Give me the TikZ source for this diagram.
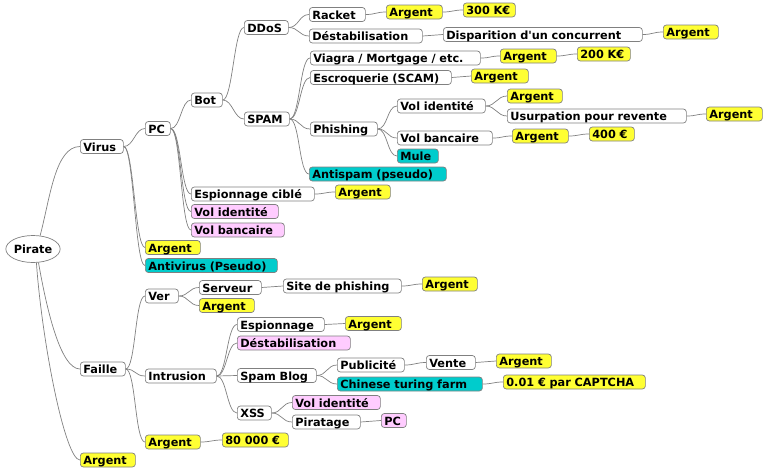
\documentclass[tikz,border=0pt]{standalone}
\usepackage{fontspec}
\setmainfont{DejaVu Sans}
\usetikzlibrary{shapes.geometric}
\definecolor{jaune}{HTML}{FFFF33}
\definecolor{turq}{HTML}{00CCCC}
\definecolor{rose}{HTML}{FFCCFF}
\begin{document}
\begin{tikzpicture}[x=1pt,y=-1pt,
  box/.style={draw=gray, fill=white, rounded corners=3pt, line width=0.7pt, anchor=west,
    inner xsep=3pt, inner ysep=1.5pt, text height=10pt, text depth=1pt, align=left,
    font=\fontsize{11.3}{13}\selectfont\bfseries},
  jbox/.style={box, fill=jaune},
  tbox/.style={box, fill=turq},
  rbox/.style={box, fill=rose},
  link/.style={draw=gray, line width=0.7pt, out=0, in=180, out distance=10pt, in distance=10pt}]
\useasboundingbox (0,0) rectangle (764,467);
\node[ellipse, draw=gray, fill=white, line width=0.7pt, minimum width=53pt, minimum height=27pt, inner sep=0pt,
  font=\fontsize{11.3}{13}\selectfont\bfseries] (pirate) at (33,249) {Pirate};
% virus
\node[box, text width=37pt] (virus) at (80,146.5) {Virus};
\node[box, text width=19pt] (pc) at (145,128.5) {PC};
\node[box, text width=25pt] (bot) at (191,100) {Bot};
\node[box, text width=38pt] (ddos) at (244,27.5) {DDoS};
\node[box, text width=50pt] (racket) at (309,14.5) {Racket};
\node[jbox, text width=50pt] (argRacket) at (386,12) {Argent};
\node[jbox, text width=46pt] (k300) at (463,10) {300 K€};
\node[box, text width=107pt] (destab) at (309,36) {Déstabilisation};
\node[box, text width=193pt] (dispar) at (443,34.5) {Disparition d\textquotesingle un concurrent};
\node[jbox, text width=49pt] (argDispar) at (663,32) {Argent};
\node[box, text width=39pt] (spam) at (244,119) {SPAM};
\node[box, text width=164pt] (viagra) at (310,58) {Viagra / Mortgage / etc.};
\node[jbox, text width=50pt] (argViagra) at (500,56) {Argent};
\node[jbox, text width=47pt] (k200) at (577,54) {200 K€};
\node[box, text width=135pt] (scam) at (310,77.5) {Escroquerie (SCAM)};
\node[jbox, text width=51pt] (argScam) at (471,76) {Argent};
\node[box, text width=61pt] (phish) at (310,129) {Phishing};
\node[box, text width=82pt] (volid) at (397,106) {Vol identité};
\node[jbox, text width=49pt] (argVolid) at (507,96) {Argent};
\node[box, text width=173pt] (usurp) at (507,116) {Usurpation pour revente};
\node[jbox, text width=50pt] (argUsurp) at (706,114) {Argent};
\node[box, text width=89pt] (volbq) at (397,138) {Vol bancaire};
\node[jbox, text width=50pt] (argVolbq) at (512,136) {Argent};
\node[jbox, text width=39pt] (e400) at (589,134) {400 €};
\node[tbox, text width=35pt] (mule) at (397,156) {Mule};
\node[tbox, text width=131pt] (antispam) at (309,174) {Antispam (pseudo)};
\node[box, text width=117pt] (espcib) at (191,194) {Espionnage ciblé};
\node[jbox, text width=49pt] (argEspcib) at (335,192) {Argent};
\node[rbox, text width=81pt] (pcVolid) at (191,211.5) {Vol identité};
\node[rbox, text width=87pt] (pcVolbq) at (191,230) {Vol bancaire};
\node[jbox, text width=49pt] (argVirus) at (145,247.5) {Argent};
\node[tbox, text width=126pt] (antivir) at (145,265.5) {Antivirus (Pseudo)};
% faille
\node[box, text width=39pt] (faille) at (80,369) {Faille};
\node[box, text width=27pt] (ver) at (145,296) {Ver};
\node[box, text width=56pt] (serveur) at (199,287.5) {Serveur};
\node[box, text width=112pt] (site) at (283,286) {Site de phishing};
\node[jbox, text width=49pt] (argSite) at (422,284) {Argent};
\node[jbox, text width=49pt] (argVer) at (199,305.5) {Argent};
\node[box, text width=65pt] (intru) at (145,376) {Intrusion};
\node[box, text width=81pt] (espion) at (237,324.5) {Espionnage};
\node[jbox, text width=50pt] (argEspion) at (345,323.5) {Argent};
\node[rbox, text width=107pt] (destabI) at (237,343) {Déstabilisation};
\node[box, text width=73pt] (blog) at (237,375.5) {Spam Blog};
\node[box, text width=61pt] (pub) at (337,365) {Publicité};
\node[box, text width=43pt] (vente) at (426,362.5) {Vente};
\node[jbox, text width=49pt] (argVente) at (496,361) {Argent};
\node[tbox, text width=139pt] (turing) at (337,384) {Chinese turing farm};
\node[jbox, text width=136pt] (captcha) at (503,382) {0.01 € par CAPTCHA};
\node[box, text width=28pt] (xss) at (237,413) {XSS};
\node[rbox, text width=82pt] (xssVolid) at (292,402.5) {Vol identité};
\node[box, text width=62pt] (pirat) at (292,422) {Piratage};
\node[rbox, text width=19pt] (pcPirat) at (381,420.5) {PC};
\node[jbox, text width=49pt] (argFaille) at (145,442) {Argent};
\node[jbox, text width=60pt] (e80k) at (222,440) {80 000 €};
\node[jbox, text width=49pt] (argPirate) at (80,460) {Argent};
% liens
\draw[draw=gray, line width=0.7pt] (pirate.62) to[out=75, in=180, in distance=25pt] (virus.west);
\draw[draw=gray, line width=0.7pt] (pirate.-68) to[out=-80, in=180, in distance=20pt] (faille.west);
\draw[draw=gray, line width=0.7pt] (pirate.-76) to[out=-86, in=180, in distance=15pt] (argPirate.west);
\draw[link] (virus.east) to (pc.west);
\draw[link] (virus.east) to (argVirus.west);
\draw[link] (virus.east) to (antivir.west);
\draw[link] (pc.east) to (bot.west);
\draw[link] (pc.east) to (espcib.west);
\draw[link] (pc.east) to (pcVolid.west);
\draw[link] (pc.east) to (pcVolbq.west);
\draw[link] (bot.east) to (ddos.west);
\draw[link] (bot.east) to (spam.west);
\draw[link] (ddos.east) to (racket.west);
\draw[link] (ddos.east) to (destab.west);
\draw[link] (racket.east) to (argRacket.west);
\draw[link] (argRacket.east) to (k300.west);
\draw[link] (destab.east) to (dispar.west);
\draw[link] (dispar.east) to (argDispar.west);
\draw[link] (spam.east) to (viagra.west);
\draw[link] (spam.east) to (scam.west);
\draw[link] (spam.east) to (phish.west);
\draw[link] (spam.east) to (antispam.west);
\draw[link] (viagra.east) to (argViagra.west);
\draw[link] (argViagra.east) to (k200.west);
\draw[link] (scam.east) to (argScam.west);
\draw[link] (phish.east) to (volid.west);
\draw[link] (phish.east) to (volbq.west);
\draw[link] (phish.east) to (mule.west);
\draw[link] (volid.east) to (argVolid.west);
\draw[link] (volid.east) to (usurp.west);
\draw[link] (usurp.east) to (argUsurp.west);
\draw[link] (volbq.east) to (argVolbq.west);
\draw[link] (argVolbq.east) to (e400.west);
\draw[link] (espcib.east) to (argEspcib.west);
\draw[link] (faille.east) to (ver.west);
\draw[link] (faille.east) to (intru.west);
\draw[link] (faille.east) to (argFaille.west);
\draw[link] (ver.east) to (serveur.west);
\draw[link] (ver.east) to (argVer.west);
\draw[link] (serveur.east) to (site.west);
\draw[link] (site.east) to (argSite.west);
\draw[link] (intru.east) to (espion.west);
\draw[link] (intru.east) to (destabI.west);
\draw[link] (intru.east) to (blog.west);
\draw[link] (intru.east) to (xss.west);
\draw[link] (espion.east) to (argEspion.west);
\draw[link] (blog.east) to (pub.west);
\draw[link] (blog.east) to (turing.west);
\draw[link] (pub.east) to (vente.west);
\draw[link] (vente.east) to (argVente.west);
\draw[link] (turing.east) to (captcha.west);
\draw[link] (xss.east) to (xssVolid.west);
\draw[link] (xss.east) to (pirat.west);
\draw[link] (pirat.east) to (pcPirat.west);
\draw[link] (argFaille.east) to (e80k.west);
\end{tikzpicture}
\end{document}
